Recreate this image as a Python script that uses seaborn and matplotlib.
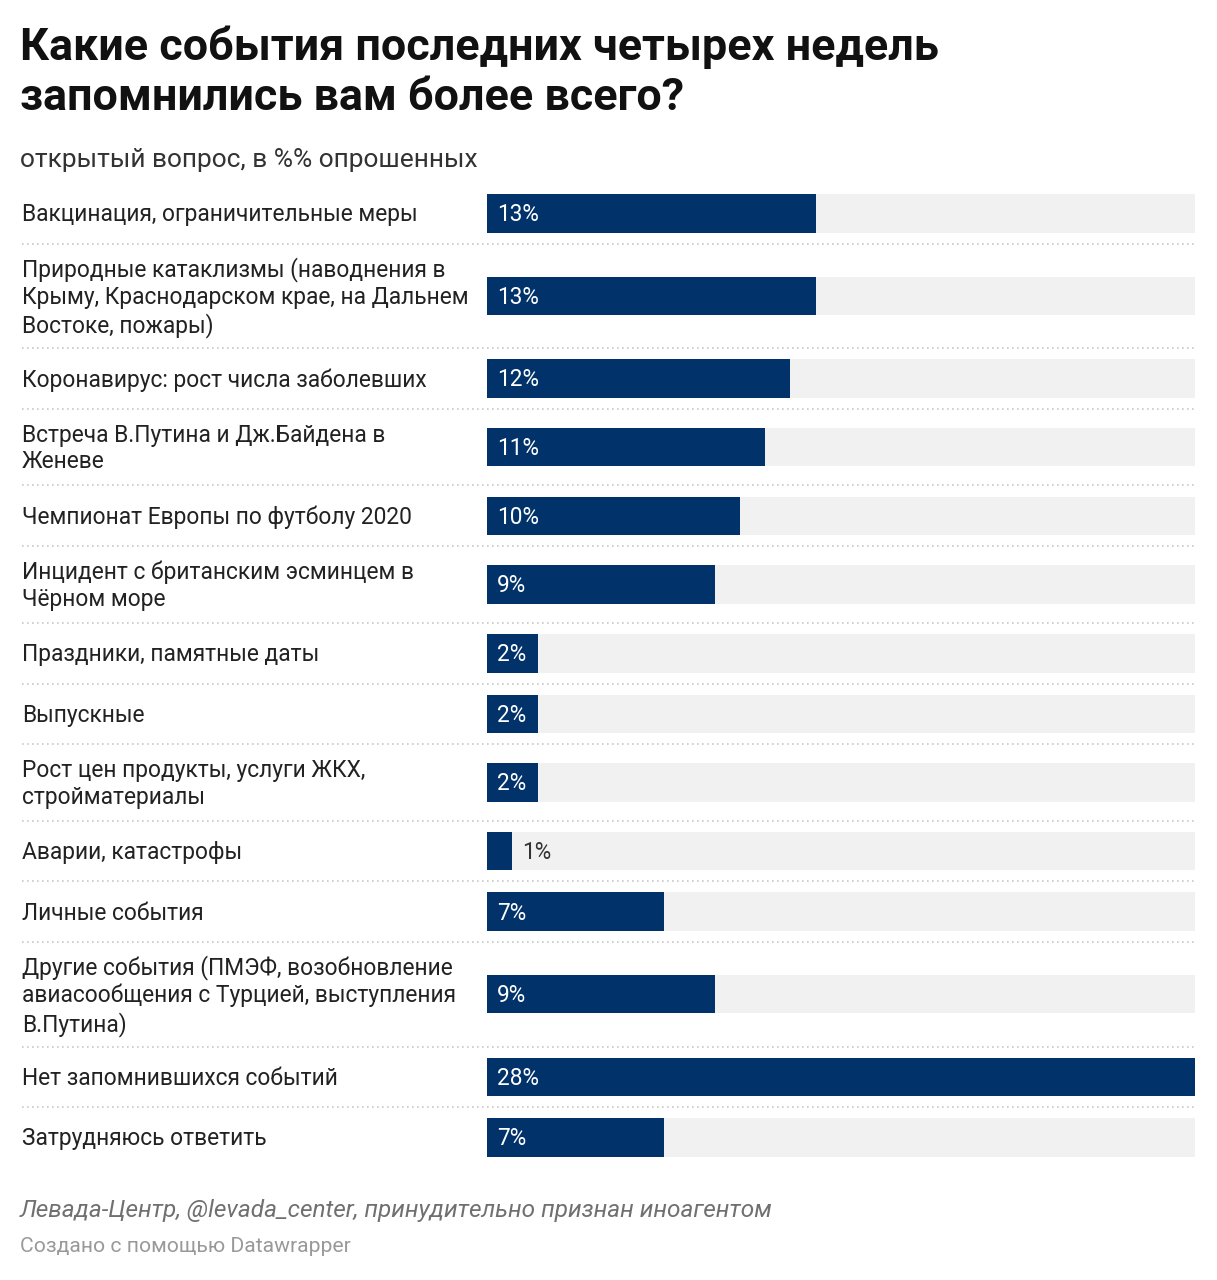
import numpy as np
import pandas as pd
import matplotlib
matplotlib.use("Agg")
import matplotlib.pyplot as plt
import matplotlib.transforms as mtransforms
from matplotlib.lines import Line2D
import seaborn as sns

# Data
labels = [
    "Вакцинация, ограничительные меры",
    "Природные катаклизмы (наводнения в\nКрыму, Краснодарском крае, на Дальнем\nВостоке, пожары)",
    "Коронавирус: рост числа заболевших",
    "Встреча В.Путина и Дж.Байдена в\nЖеневе",
    "Чемпионат Европы по футболу 2020",
    "Инцидент с британским эсминцем в\nЧёрном море",
    "Праздники, памятные даты",
    "Выпускные",
    "Рост цен продукты, услуги ЖКХ,\nстройматериалы",
    "Аварии, катастрофы",
    "Личные события",
    "Другие события (ПМЭФ, возобновление\nавиасообщения с Турцией, выступления\nВ.Путина)",
    "Нет запомнившихся событий",
    "Затрудняюсь ответить",
]
values = [13, 13, 12, 11, 10, 9, 2, 2, 2, 1, 7, 9, 28, 7]

title = "Какие события последних четырех недель\nзапомнились вам более всего?"
subtitle = "открытый вопрос, в %% опрошенных"
source = "Левада-Центр, @levada_center, принудительно признан иноагентом"
credit = "Создано с помощью Datawrapper"

# Style
sns.set_style("white")
plt.rcParams['font.family'] = ['Roboto', 'DejaVu Sans']

W, H, DPI = 1217, 1280, 100
BAR_COLOR = "#01336a"
BG_COLOR = "#f1f1f1"

# Row layout in pixels (rows grow with label line count)
line_h = 27.5
bar_h = 38.5
n_lines = [lab.count("\n") + 1 for lab in labels]
row_h = np.array([max(bar_h, line_h * n) + 22 for n in n_lines])
edges = np.concatenate([[0], np.cumsum(row_h)])
centers = (edges[:-1] + edges[1:]) / 2
total = edges[-1]

df = pd.DataFrame({"label": labels, "value": values, "y": centers})
df["full"] = df["value"].max()

fig = plt.figure(figsize=(W / DPI, H / DPI), dpi=DPI)
fig.patch.set_facecolor("white")

top_px = 183
left_px, right_px = 487, 1195
ax = fig.add_axes([left_px / W, 1 - (top_px + total) / H,
                   (right_px - left_px) / W, total / H])

width = bar_h / np.diff(np.sort(centers)).min()

sns.barplot(data=df, x="full", y="y", orient="h", native_scale=True,
            color=BG_COLOR, width=width, errorbar=None, ax=ax,
            saturation=1, linewidth=0)
sns.barplot(data=df, x="value", y="y", orient="h", native_scale=True,
            color=BAR_COLOR, width=width, errorbar=None, ax=ax,
            saturation=1, linewidth=0)

ax.set_xlim(0, df["value"].max())
ax.set_ylim(total, 0)
ax.axis("off")

# Labels to the left (nudged down a touch)
trans = mtransforms.blended_transform_factory(fig.transFigure, ax.transData)
nudge = mtransforms.ScaledTranslation(0, -1.5 / DPI, fig.dpi_scale_trans)
for _, r in df.iterrows():
    ax.text(22 / W, r["y"], r["label"], transform=trans + nudge, ha="left",
            va="center", fontsize=16.4, color="#222222", linespacing=1.22)

# Value labels
for _, r in df.iterrows():
    txt = f"{r['value']}%"
    if r["value"] >= 2:
        ax.annotate(txt, (0, r["y"]), xytext=(7, -1), textcoords="offset points",
                    ha="left", va="center", fontsize=16.3, color="white")
    else:
        ax.annotate(txt, (r["value"], r["y"]), xytext=(7, -1),
                    textcoords="offset points", ha="left", va="center",
                    fontsize=16.3, color="#333333")

# Dotted separators between rows
for e in edges[1:-1]:
    fig.add_artist(Line2D([22 / W, right_px / W], [e, e], transform=trans,
                          color="#c8c8c8", linewidth=1.2,
                          linestyle=(0, (1, 2)), clip_on=False))

# Title block
for i, line in enumerate(title.split("\n")):
    fig.text(20 / W, 1 - (60 + 50 * i) / H, line, ha="left", va="baseline",
             fontsize=32.3, fontweight="bold", color="#111111")
fig.text(20 / W, 1 - 167 / H, subtitle, ha="left", va="baseline",
         fontsize=19, color="#333333")

# Footer
fig.text(20 / W, 1 - 1211 / H, source, ha="left", va="center", fontsize=17.6,
         style="italic", color="#707070")
fig.text(20 / W, 1 - 1247 / H, credit, ha="left", va="center", fontsize=15.2,
         color="#999999")

plt.savefig("out.png", dpi=DPI)
plt.close()
